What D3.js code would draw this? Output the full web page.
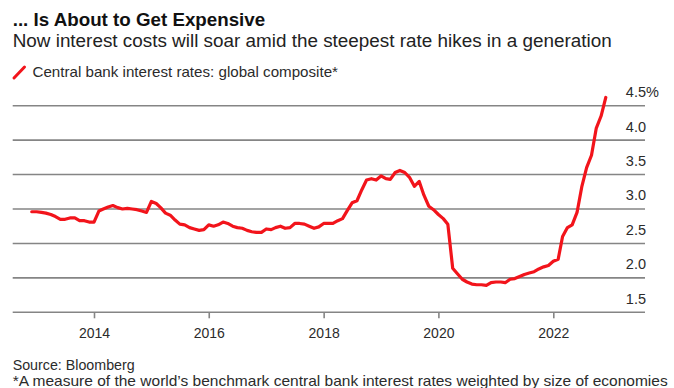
<!DOCTYPE html>
<html>
<head>
<meta charset="utf-8">
<script src="https://cdn.jsdelivr.net/npm/d3@7"></script>
<style>
  html, body { margin: 0; padding: 0; background: #fff; }
  svg { display: block; font-family: "Liberation Sans", Arial, Helvetica, sans-serif; }
</style>
</head>
<body>
<svg id="chart" width="674" height="388"></svg>
<script>
// Global composite of central bank policy rates, monthly, Dec 2012 – Dec 2022 (%)
const firstMonth = "2012-12";
const rates2012 = [2.96];
const rates2013 = [2.96, 2.95, 2.94, 2.92, 2.89, 2.85, 2.85, 2.87, 2.87, 2.83, 2.83, 2.81];
const rates2014 = [2.81, 2.97, 3.00, 3.03, 3.05, 3.02, 3.00, 3.01, 3.00, 2.99, 2.97, 2.95];
const rates2015 = [3.11, 3.08, 3.02, 2.94, 2.91, 2.84, 2.78, 2.77, 2.73, 2.71, 2.69, 2.70];
const rates2016 = [2.77, 2.75, 2.77, 2.81, 2.79, 2.75, 2.73, 2.72, 2.69, 2.67, 2.66, 2.66];
const rates2017 = [2.71, 2.70, 2.73, 2.75, 2.72, 2.73, 2.79, 2.79, 2.78, 2.75, 2.72, 2.74];
const rates2018 = [2.79, 2.79, 2.79, 2.83, 2.86, 2.98, 3.09, 3.12, 3.28, 3.42, 3.44, 3.42];
const rates2019 = [3.48, 3.44, 3.43, 3.53, 3.56, 3.53, 3.46, 3.33, 3.40, 3.20, 3.04, 2.99];
const rates2020 = [2.92, 2.86, 2.78, 2.14, 2.06, 1.98, 1.94, 1.91, 1.90, 1.90, 1.89, 1.93];
const rates2021 = [1.94, 1.94, 1.93, 1.98, 1.99, 2.02, 2.05, 2.07, 2.09, 2.13, 2.16, 2.18];
const rates2022 = [2.24, 2.27, 2.60, 2.73, 2.77, 2.95, 3.32, 3.60, 3.78, 4.17, 4.35, 4.62];

const yTicks = [1.5, 2.0, 2.5, 3.0, 3.5, 4.0, 4.5];
const yTickLabels = ["1.5", "2.0", "2.5", "3.0", "3.5", "4.0", "4.5"];
const xTickYears = [2014, 2016, 2018, 2020, 2022];

const titleText = "... Is About to Get Expensive";
const subtitleText = "Now interest costs will soar amid the steepest rate hikes in a generation";
const legendText = "Central bank interest rates: global composite*";
const sourceText = "Source: Bloomberg";
const noteText = "*A measure of the world\u2019s benchmark central bank interest rates weighted by size of economies";

const rates = [].concat(rates2012, rates2013, rates2014, rates2015, rates2016,
  rates2017, rates2018, rates2019, rates2020, rates2021, rates2022);
const start = d3.timeParse("%Y-%m")(firstMonth);
const series = rates.map((v, i) => ({ date: d3.timeMonth.offset(start, i), value: v }));

const svg = d3.select("#chart");
const red = "#f2141b";
const grid = "#858585";
const ink = "#2b2b2b";

const left = 12.7, right = 645;
const x = d3.scaleTime()
  .domain([new Date(2014, 0, 1), new Date(2022, 0, 1)])
  .range([94, 553.3]);
const y = d3.scaleLinear().domain([1.5, 4.5]).range([312.3, 105.7]);

// Text helper: the house face runs wider than Liberation Sans, so each line
// is set to its measured run length.
function label(xp, yp, txt, size, width, opts = {}) {
  const t = svg.append("text").attr("x", xp).attr("y", yp)
    .attr("font-size", size)
    .attr("font-weight", opts.bold ? 700 : 400)
    .attr("fill", opts.fill || ink)
    .text(txt);
  if (width) t.attr("textLength", width).attr("lengthAdjust", "spacingAndGlyphs");
  return t;
}

// Header
label(12.7, 26, titleText, 18, 252.5, { bold: true, fill: "#111" });
label(12.7, 46.8, subtitleText, 17.5, 599, { fill: "#222" });

// Legend
svg.append("line").attr("x1", 14).attr("y1", 78).attr("x2", 24.5).attr("y2", 67)
  .attr("stroke", red).attr("stroke-width", 3).attr("stroke-linecap", "round");
label(32.5, 76.8, legendText, 14.5, 305.5);

// Horizontal gridlines (the lowest one doubles as the baseline)
svg.append("g").selectAll("line").data(yTicks).join("line")
  .attr("x1", left).attr("x2", right)
  .attr("y1", d => y(d)).attr("y2", d => y(d))
  .attr("stroke", grid).attr("stroke-width", 1.6);

// Y labels sit just above their gridlines, right aligned
const yLab = svg.append("g").attr("font-size", 14.5).attr("fill", ink);
yLab.selectAll("text").data(yTicks).join("text")
  .attr("x", 646).attr("y", d => y(d) - 8.6)
  .attr("text-anchor", "end")
  .text((d, i) => yTickLabels[i]);
yLab.append("text")
  .attr("x", 646).attr("y", y(yTicks[yTicks.length - 1]) - 8.6)
  .text("%");

// X axis ticks and labels
const xAxis = d3.axisBottom(x)
  .tickValues(xTickYears.map(yr => new Date(yr, 0, 1)))
  .tickFormat(d3.timeFormat("%Y"))
  .tickSize(6).tickPadding(10);
const gx = svg.append("g").attr("transform", `translate(0,${y(1.5)})`).call(xAxis);
gx.select(".domain").remove();
gx.selectAll(".tick line").attr("stroke", grid).attr("stroke-width", 1.6);
gx.selectAll(".tick text")
  .attr("font-size", 14).attr("fill", ink)
  .attr("font-family", "Liberation Sans, Arial, sans-serif");

// Rate line
const line = d3.line().x(d => x(d.date)).y(d => y(d.value));
svg.append("path").datum(series)
  .attr("d", line)
  .attr("fill", "none").attr("stroke", red)
  .attr("stroke-width", 3.2).attr("stroke-linejoin", "round").attr("stroke-linecap", "round");

// Footer
label(12.7, 369.5, sourceText, 14, 122);
label(12.7, 385.5, noteText, 14.3, 655);
</script>
</body>
</html>
